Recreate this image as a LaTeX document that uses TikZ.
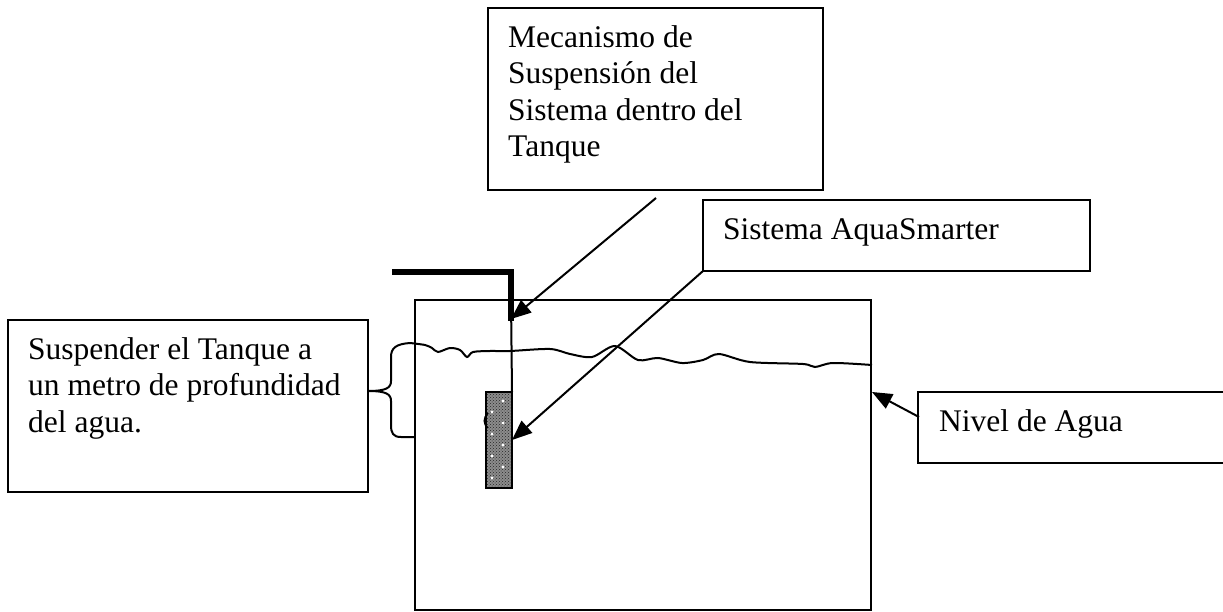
\documentclass[tikz,border=0pt]{standalone}
\usepackage{fontspec}
\setmainfont{Liberation Serif}
\usetikzlibrary{arrows.meta,patterns}
\tikzset{
  callout/.style={draw, line width=2pt, inner sep=0pt, outer sep=0pt, anchor=north west},
  callouttext/.style={anchor=north west, inner sep=0pt, align=left, font=\fontsize{31.5}{36.5}\selectfont},
  pointer/.style={line width=2pt, -{Triangle[length=20pt,width=16pt]}},
}
\begin{document}
\begin{tikzpicture}[x=1pt,y=-1pt]
\useasboundingbox (0,0) rectangle (1223,612);
\node[callout, minimum width=456pt, minimum height=310pt] (tanque) at (415,300) {};
\node[callout, minimum width=335pt, minimum height=182pt] (mec) at (488,8) {};
\node[callout, minimum width=387pt, minimum height=71pt] (sis) at (703,200) {};
\node[callout, minimum width=360pt, minimum height=172pt] (sus) at (8,320) {};
\node[callout, minimum width=330pt, minimum height=71pt] (niv) at (918,392) {};
\node[callouttext] (mecTxt) at ([xshift=20pt,yshift=-13.5pt]mec.north west) {\strut Mecanismo de\\Suspensión del\\Sistema dentro del\\Tanque};
\node[callouttext] (sisTxt) at ([xshift=20pt,yshift=-13.5pt]sis.north west) {\strut Sistema AquaSmarter};
\node[callouttext] (susTxt) at ([xshift=20pt,yshift=-13.5pt]sus.north west) {\strut Suspender el Tanque a\\un metro de profundidad\\del agua.};
\node[callouttext] (nivTxt) at ([xshift=21pt,yshift=-13.5pt]niv.north west) {\strut Nivel de Agua};
% tubo y sistema
\draw[line width=5.5pt, line join=miter] (392,272) -- (511,272) -- (511,321);
\node[callout, minimum width=26pt, minimum height=96pt, fill=black!45] (bloque) at (486,392) {};
\fill[pattern=crosshatch dots, pattern color=black!85] (bloque.north west) rectangle (bloque.south east);
\foreach \y/\x in {401/503, 412/492, 423/503, 434/492, 445/503, 456/492, 467/503, 478/492}
  \fill[white] (\x,\y) circle (1.6pt);
\draw[line width=2pt] (bloque.north west) rectangle (bloque.south east);
\draw[line width=2pt] (511,300) -- (bloque.north east);
\draw[line width=1.5pt] (488,413) .. controls (483,418) and (483,424) .. (488,428);
% nivel de agua y llave
\draw[line width=2pt] (415,437) -- (401,437) .. controls (393,437) and (391,433) .. (391,425) -- (391,401)
  .. controls (391,394) and (386,391) .. (368,391) .. controls (386,391) and (391,388) .. (391,381)
  -- (391,357) .. controls (391,348) and (396,344) .. (410,343);
\draw[line width=2pt] plot[smooth, tension=0.5] coordinates {(410,343) (425,345) (432,348) (438,352) (450,348)
  (460,350) (467,357) (473,352) (490,351) (510,351) (550,349) (570,354) (592,357) (615,346) (638,360)
  (658,358) (682,363) (703,360) (719,354) (750,362) (803,364) (815,367) (833,363) (872,365)};
% flechas
\coordinate (mecPie) at (656,198);
\coordinate (tubo) at (511,319);
\coordinate (nivPie) at (919,417);
\coordinate (pared) at (872,392);
\draw[pointer] (mecPie) -- (tubo);
\draw[pointer] (sis.south west) -- (bloque.east);
\draw[pointer] (nivPie) -- (pared);
\end{tikzpicture}
\end{document}
